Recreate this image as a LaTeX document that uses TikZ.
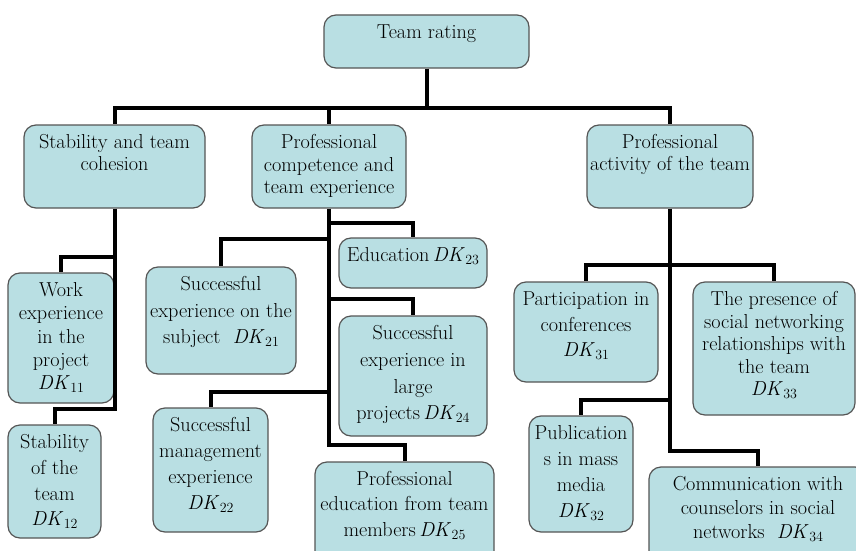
\documentclass[tikz,border=0pt]{standalone}
\definecolor{boxfill}{HTML}{B9DFE3}
\definecolor{boxline}{HTML}{555555}
\newcommand\fs[1]{\fontsize{20.2}{#1}\selectfont}
\newcommand\fl{\rule{0pt}{15pt}}
\newcommand\dk[1]{\textit{DK}\kern0.5pt\raisebox{-0.35ex}{\fontsize{14}{14}\selectfont #1}}
\begin{document}
\begin{tikzpicture}[x=1pt,y=-1pt,
  box/.style={draw=boxline, fill=boxfill, line width=1.2pt, rounded corners=12pt, inner sep=0pt},
  lbl/.style={anchor=north, align=center, inner sep=0pt, yshift=-9pt, font=\fs{24}},
  conn/.style={line width=4pt, black}]
\useasboundingbox (0,0) rectangle (856,551);

% boxes
\node[box, minimum width=205pt, minimum height=53pt, label={[lbl]north:{\fl Team rating}}] (root) at (426.5,41.5) {};
\node[box, minimum width=181pt, minimum height=83pt, label={[lbl,font=\fs{22}]north:{\fl Stability and team\\cohesion}}] (s1) at (114.5,166.5) {};
\node[box, minimum width=154pt, minimum height=83pt, label={[lbl,font=\fs{22.5}]north:{\fl Professional\\competence and\\team experience}}] (s2) at (329,166.5) {};
\node[box, minimum width=166pt, minimum height=83pt, label={[lbl,font=\fs{22.3}]north:{\fl Professional\\activity of the team}}] (s3) at (670,166.5) {};

\node[box, minimum width=106pt, minimum height=130pt, label={[lbl,font=\fs{23.3}]north:{\fl Work\\experience\\in the\\project\\\dk{11}}}] (s11) at (61,338) {};
\node[box, minimum width=93pt, minimum height=113pt, label={[lbl,font=\fs{25.7}]north:{\fl Stability\\of the\\team\\\dk{12}}}] (s12) at (54.5,481.5) {};

\node[box, minimum width=150pt, minimum height=107pt, label={[lbl,font=\fs{26.5}]north:{\fl Successful\\experience on the\\subject \ \dk{21}}}] (s21) at (221,320.5) {};
\node[box, minimum width=115pt, minimum height=124pt, label={[lbl,font=\fs{26}]north:{\fl Successful\\management\\experience\\\dk{22}}}] (s22) at (210.5,470) {};
\node[box, minimum width=148pt, minimum height=50pt, label={[lbl]north:{\fl Education\,\dk{23}}}] (s23) at (413,263) {};
\node[box, minimum width=148pt, minimum height=120pt, label={[lbl,font=\fs{26.7}]north:{\fl Successful\\experience in\\large\\projects\,\dk{24}}}] (s24) at (413,376) {};
\node[box, minimum width=179pt, minimum height=103pt, label={[lbl,font=\fs{25.3}]north:{\fl Professional\\education from team\\members\,\dk{25}}}] (s25) at (404.5,513.5) {};

\node[box, minimum width=144pt, minimum height=100pt, label={[lbl,font=\fs{25.5}]north:{\fl Participation in\\conferences\\\dk{31}}}] (s31) at (586,332) {};
\node[box, minimum width=104pt, minimum height=116pt, label={[lbl,font=\fs{25.8}]north:{\fl Publication\\s in mass\\media\\\dk{32}}}] (s32) at (581,474) {};
\node[box, minimum width=162pt, minimum height=133pt, label={[lbl,font=\fs{22.5}]north:{\fl The presence of\\social networking\\relationships with\\the team\\\dk{33}}}] (s33) at (774,348.5) {};
\node[box, minimum width=218pt, minimum height=98pt, label={[lbl,font=\fs{24}]north:{\fl Communication with\\counselors in social\\networks \ \dk{34}}}] (s34) at (758,516) {};

% connectors
\draw[conn] (root.south) -- (root.south |- 0,108) -| (s1.north);
\draw[conn] (root.south |- 0,108) -| (s2.north);
\draw[conn] (root.south |- 0,108) -| (s3.north);

\draw[conn] (s1.south) -- (s1.south |- 0,409) -| (s12.north);
\draw[conn] (s1.south |- 0,257) -| (s11.north);

\draw[conn] (s2.south) -- (s2.south |- 0,445) -| (s25.north);
\draw[conn] (s2.south |- 0,223) -| (s23.north);
\draw[conn] (s2.south |- 0,239) -| (s21.north);
\draw[conn] (s2.south |- 0,299) -| (s24.north);
\draw[conn] (s2.south |- 0,392) -| (s22.north);

\draw[conn] (s3.south) -- (s3.south |- 0,451) -| (s34.north);
\draw[conn] (s3.south |- 0,265) -| (s31.north);
\draw[conn] (s3.south |- 0,265) -| (s33.north);
\draw[conn] (s3.south |- 0,400) -| (s32.north);
\end{tikzpicture}
\end{document}
